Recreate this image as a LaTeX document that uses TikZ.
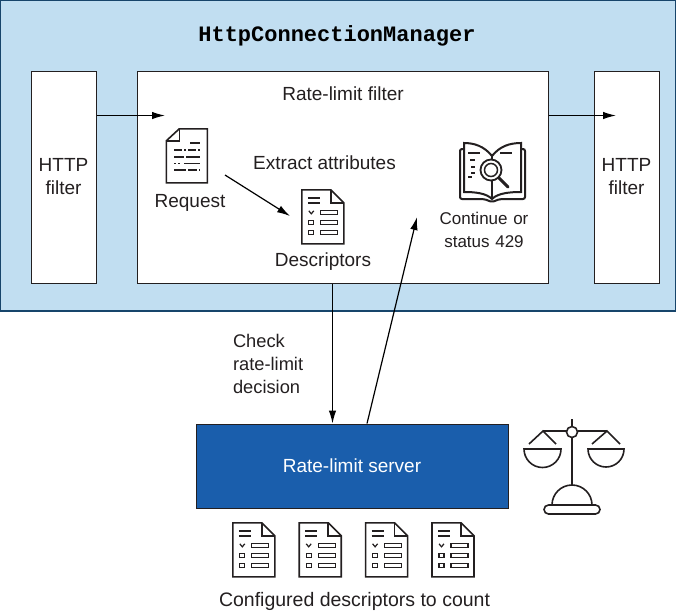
\documentclass[tikz,border=0pt]{standalone}
\usepackage{fontspec}
\setmainfont{Liberation Sans}
\setmonofont{Liberation Mono}
\usetikzlibrary{positioning,arrows.meta}
\definecolor{mylightblue}{HTML}{C1DEF1}
\definecolor{myblue}{HTML}{1A5EAC}
\definecolor{myborder}{HTML}{17456B}
\definecolor{myink}{HTML}{231F20}

\begin{document}
\begin{tikzpicture}[x=1pt, y=-1pt, node distance=1.5mm, auto]
	\tikzset{
		mybox/.style={rectangle, draw=myink, fill=white, line width=1pt, inner sep=0pt},
		myarrow/.style={-{Latex[length=13pt,width=7.500pt]}, line width=1.2pt, draw=black},
		mylabel/.style={text=myink, text centered, inner sep=0pt, font=\fontsize{19}{23}\selectfont},
		mylabelmini/.style={mylabel, font=\fontsize{17}{23}\selectfont},
		myicon/.style={inner sep=0pt, minimum width=42pt, minimum height=54pt},
		myglyph/.style={draw=myink, line width=1.6pt, line join=miter},
		mydoc/.pic={
			% page with the corner folded at top right
			\draw[myglyph] (0,0) -- (29,0) -- (42,13) -- (42,54) -- (0,54) -- cycle;
			\draw[myglyph] (29,0) -- (29,13) -- (42,13);
			\draw[myglyph] (6,8) -- (18,8) (6,13) -- (18,13);
			\draw[myglyph, line width=1.2pt] (7,21) -- (9.500,24) -- (12,21);
			\draw[myglyph, line width=1.2pt] (7,31) rectangle (12,35) (7,41) rectangle (12,45);
			\draw[myglyph, line width=1.2pt] (19,21) rectangle (36,25) (19,31) rectangle (36,35) (19,41) rectangle (36,45);
		},
		myreq/.pic={
			% page with the corner cut at top left
			\draw[myglyph] (13,0) -- (41,0) -- (41,54) -- (0,54) -- (0,12) -- cycle;
			\draw[myglyph] (13,0) -- (13,12) -- (0,12);
			\draw[myglyph] (24,14) -- (34,14);
			\draw[myglyph, dash pattern=on 8pt off 2pt on 2pt off 2pt] (8,21) -- (34,21);
			\draw[myglyph] (8,28) -- (18,28) (20,28) -- (34,28);
			\draw[myglyph, dash pattern=on 2pt off 2pt on 2pt off 4pt on 14pt off 0pt] (8,34.500) -- (34,34.500);
			\draw[myglyph] (8,41) -- (20,41) (22,41) -- (31,41) (33,41) -- (34,41);
		}
	}
	\useasboundingbox (0,0) rectangle (676,614);

	\node[rectangle, draw=myborder, fill=mylightblue, line width=1.6pt, minimum width=676pt, minimum height=311pt, inner sep=0pt] (manager) at (338,155.500) {};
	\node[text=black, inner sep=0pt, font=\fontsize{22}{26}\selectfont\ttfamily\bfseries] (managerl) at (337,36) {HttpConnectionManager};

	\node[mybox, minimum width=65pt, minimum height=212pt] (httpa) at (63.500,177) {};
	\node[mybox, minimum width=411pt, minimum height=212pt] (rate) at (342.500,177) {};
	\node[mybox, minimum width=65pt, minimum height=212pt] (httpb) at (626.500,177) {};
	\node[mylabel, text width=60pt] at (httpa) {HTTP\\filter};
	\node[mylabel, text width=60pt] at (httpb) {HTTP\\filter};
	\node[mylabel] (ratel) at (343,94) {Rate-limit filter};

	% icons inside the filter
	\node[myicon] (request) at (187.500,156) {};
	\pic at (request.north west) {myreq};
	\node[mylabel] (requestl) at (190,203) {Request};
	\node[mylabel] (extract) at (324.500,163) {Extract attributes};
	\node[myicon] (desc) at (323,217) {};
	\pic at (desc.north west) {mydoc};
	\node[mylabel, below=8pt of desc] (descl) {Descriptors};

	\node[myicon] (book) at (492,172) {};
	\draw[myglyph, line width=2pt, rounded corners=2pt] (464,149) -- (460,149) -- (460,199) -- (484,199) -- (492,202) -- (500,199) -- (525,199) -- (525,149) -- (521,149);
	\draw[myglyph, line width=2pt, fill=white] (492,156) .. controls (484,146) and (474,143) .. (464,143) -- (464,192) .. controls (475,192) and (486,193) .. (492,199) .. controls (498,193) and (510,192) .. (521,192) -- (521,143) .. controls (510,143) and (500,146) .. (492,156) -- cycle;
	\draw[myglyph] (492,156) -- (492,199);
	\draw[myglyph] (468,153) -- (480,153) (500,153) -- (512,153) (470,160) -- (475,160) (471,167) -- (475,167) (471,173) -- (475,173) (468,177) -- (472,177);
	\draw[myglyph, line width=1.8pt, fill=white] (491,170) circle (10.500);
	\draw[myglyph, line width=1.500pt] (491,170) circle (6.500);
	\draw[myglyph, line width=3pt, line cap=round] (499,178) -- (508,187);
	\node[mylabelmini, text width=110pt] (bookl) at (484,229.500) {Continue or\\status 429};

	% server and what hangs below it
	\node[rectangle, draw=myink, fill=myblue, line width=1pt, minimum width=312pt, minimum height=84pt, inner sep=0pt] (server) at (352,466) {};
	\node[mylabel, text=white] at (server) {Rate-limit server};
	\node[mylabelmini, font=\fontsize{18.300}{23}\selectfont, align=left, text width=80pt] (checkl) at (273,364) {Check\\rate-limit\\decision};

	\node[myicon] (desca) at (254,550) {};
	\node[myicon, right=24pt of desca] (descb) {};
	\node[myicon, right=24pt of descb] (descc) {};
	\node[myicon, right=24pt of descc] (descd) {};
	\foreach \n in {desca,descb,descc,descd}
		\pic at (\n.north west) {mydoc};
	\node[mylabel, font=\fontsize{19.500}{23}\selectfont] (countl) at (354.500,601) {Configured descriptors to count};

	% balance
	\draw[myglyph] (572,419) -- (572,426.500);
	\draw[myglyph] (543,431) -- (566.500,431) (577.500,431) -- (607,431);
	\draw[myglyph] (529,444) -- (543,431) -- (556,444);
	\draw[myglyph] (592,444) -- (607,431) -- (620,444);
	\draw[myglyph] (524,449) -- (561,449) arc[start angle=0, end angle=180, radius=18.500] -- cycle;
	\draw[myglyph] (588,449) -- (624,449) arc[start angle=0, end angle=180, radius=18] -- cycle;
	\node[circle, myglyph, minimum size=11pt, inner sep=0pt] (pivot) at (572,432) {};
	\draw[myglyph] (pivot) -- (572,485);
	\draw[myglyph] (552,505) arc[start angle=180, end angle=360, radius=20];
	\draw[myglyph, rounded corners=4.500pt] (544,505) rectangle (600,514);

	% connectors
	\coordinate (reqtip) at (165,115.500);
	\coordinate (outtip) at (616,115.500);
	\coordinate (reqfoot) at (225,175);
	\coordinate (desctip) at (290,216);
	\coordinate (booktip) at (417,217);
	\draw[myarrow] (httpa.east |- reqtip) -- (reqtip);
	\draw[myarrow] (rate.east |- outtip) -- (outtip);
	\draw[myarrow] (reqfoot) -- (desctip);
	\draw[myarrow] (rate.south -| 332.500,0) -- (server.north -| 332.500,0);
	\draw[myarrow] (server.north -| 367,0) -- (booktip);
\end{tikzpicture}
\end{document}
